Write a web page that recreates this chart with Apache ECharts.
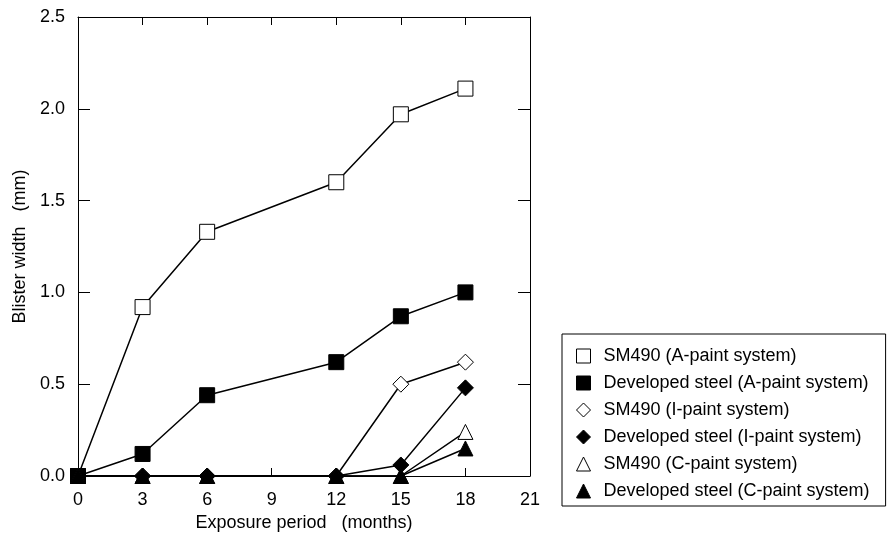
<!DOCTYPE html>
<html><head><meta charset="utf-8">
<script src="https://cdn.jsdelivr.net/npm/echarts@6/dist/echarts.min.js"></script>
<style>html,body{margin:0;padding:0;background:#fff}#c{width:888px;height:537px}</style>
</head><body><div id="c"></div>
<script>
const months = [0, 3, 6, 12, 15, 18];
const sm490A = [0, 0.92, 1.33, 1.60, 1.97, 2.11];
const devA   = [0, 0.12, 0.44, 0.62, 0.87, 1.00];
const sm490I = [0, 0, 0, 0, 0.50, 0.62];
const devI   = [0, 0, 0, 0, 0.06, 0.48];
const sm490C = [0, 0, 0, 0, 0, 0.24];
const devC   = [0, 0, 0, 0, 0, 0.15];
const names = [
  'SM490 (A-paint system)',
  'Developed steel (A-paint system)',
  'SM490 (I-paint system)',
  'Developed steel (I-paint system)',
  'SM490 (C-paint system)',
  'Developed steel (C-paint system)'
];
const seriesData = [sm490A, devA, sm490I, devI, sm490C, devC];
const symbols = ['rect', 'rect', 'diamond', 'diamond', 'triangle', 'triangle'];
const filled = [false, true, false, true, false, true];
const sizes = [15, 15, 16, 16, 15, 15];

const font = 'Liberation Sans, Arial, sans-serif';
const series = seriesData.map((vals, i) => ({
  name: names[i],
  type: 'line',
  data: months.map((m, j) => [m, vals[j]]),
  symbol: symbols[i],
  symbolSize: sizes[i],
  showAllSymbol: true,
  lineStyle: { color: '#000', width: 1.5 },
  itemStyle: { color: filled[i] ? '#000' : '#fff', borderColor: '#000', borderWidth: 1 },
  z: 2 + i,
  animation: false
}));

const axisLine = { show: true, onZero: false, lineStyle: { color: '#000', width: 1 } };
const chart = echarts.init(document.getElementById('c'));
chart.setOption({
  animation: false,
  grid: { left: 78, right: 358, top: 17, bottom: 61 },
  xAxis: [{
    type: 'value', min: 0, max: 21, interval: 3, position: 'bottom',
    name: 'Exposure period   (months)', nameLocation: 'middle', nameGap: 37,
    nameTextStyle: { fontFamily: font, fontSize: 18, color: '#000' },
    axisLine: axisLine,
    axisTick: { show: true, inside: true, length: 8, lineStyle: { color: '#000' } },
    axisLabel: { fontFamily: font, fontSize: 18, color: '#000', margin: 15 },
    splitLine: { show: false }
  }, {
    type: 'value', min: 0, max: 21, interval: 3, position: 'top',
    axisLine: axisLine,
    axisTick: { show: true, inside: true, length: 8, lineStyle: { color: '#000' } },
    axisLabel: { show: false }, splitLine: { show: false }
  }],
  yAxis: [{
    type: 'value', min: 0, max: 2.5, interval: 0.5, position: 'left',
    name: 'Blister width   (mm)', nameLocation: 'middle', nameGap: 46,
    nameTextStyle: { fontFamily: font, fontSize: 18, color: '#000' },
    axisLine: axisLine,
    axisTick: { show: true, inside: true, length: 12, lineStyle: { color: '#000' } },
    axisLabel: { fontFamily: font, fontSize: 18, color: '#000', margin: 13, formatter: v => v.toFixed(1) },
    splitLine: { show: false }
  }, {
    type: 'value', min: 0, max: 2.5, interval: 0.5, position: 'right',
    axisLine: axisLine,
    axisTick: { show: true, inside: true, length: 12, lineStyle: { color: '#000' } },
    axisLabel: { show: false }, splitLine: { show: false }
  }],
  legend: {
    orient: 'vertical', left: 562, top: 334,
    padding: [13, 16, 6, 14],
    itemGap: 9, itemWidth: 14, itemHeight: 14,
    borderColor: '#000', borderWidth: 1,
    selectedMode: false,
    textStyle: { fontFamily: font, fontSize: 18, color: '#000', lineHeight: 18, padding: [0, 0, 0, 8] },
    data: names.map((n, i) => ({
      name: n, icon: symbols[i],
      itemStyle: { color: filled[i] ? '#000' : '#fff', borderColor: '#000', borderWidth: 1 }
    }))
  },
  series: series
});
</script></body></html>
